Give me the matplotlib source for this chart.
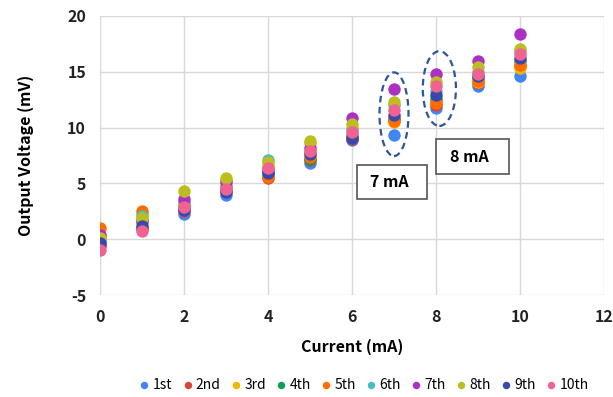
import matplotlib
matplotlib.use("Agg")
import matplotlib.pyplot as plt
from matplotlib.patches import Ellipse, Rectangle

plt.rcParams['font.family'] = ['Noto Sans CJK KR', 'DejaVu Sans']
plt.rcParams['axes.unicode_minus'] = False

current = [0, 1, 2, 3, 4, 5, 6, 7, 8, 9, 10]
labels = ["1st", "2nd", "3rd", "4th", "5th", "6th", "7th", "8th", "9th", "10th"]
colors = ["#4285F4", "#DB4437", "#F4B400", "#0F9D58", "#FF6D00",
          "#46BDC6", "#AB30C4", "#BDBD22", "#3949AB", "#F06292"]

s1st  = [-0.5, 0.9, 2.3, 4.0, 5.8, 6.8, 8.9, 9.3, 11.8, 13.7, 14.6]
s2nd  = [-0.6, 1.0, 2.5, 4.3, 5.5, 7.1, 9.0, 10.7, 12.0, 14.0, 15.5]
s3rd  = [0.3, 2.3, 3.2, 5.3, 6.6, 8.6, 10.0, 10.5, 12.4, 14.1, 15.3]
s4th  = [-0.2, 1.7, 2.8, 4.6, 6.0, 7.2, 9.3, 10.9, 12.6, 14.4, 16.0]
s5th  = [1.0, 2.5, 3.0, 4.7, 5.6, 7.4, 9.2, 10.6, 12.2, 14.2, 15.6]
s6th  = [0.0, 2.1, 3.3, 4.8, 7.1, 7.8, 9.8, 12.0, 13.3, 15.0, 16.9]
s7th  = [0.4, 1.5, 3.6, 5.1, 6.2, 8.2, 10.9, 13.5, 14.8, 16.0, 18.4]
s8th  = [0.1, 1.9, 4.3, 5.5, 6.9, 8.8, 10.3, 12.3, 14.1, 15.4, 17.0]
s9th  = [-0.3, 1.2, 2.6, 4.2, 5.9, 7.6, 9.1, 11.1, 12.9, 14.6, 16.2]
s10th = [-1.0, 0.7, 2.9, 4.5, 6.4, 7.9, 9.6, 11.6, 13.7, 14.8, 16.6]
series = [s1st, s2nd, s3rd, s4th, s5th, s6th, s7th, s8th, s9th, s10th]

W, H = 613, 397
fig = plt.figure(figsize=(W / 100, H / 100), dpi=100)
ax = fig.add_axes([100 / W, 1 - 295 / H, 504 / W, 279 / H])

for vals, lab, c in zip(series, labels, colors):
    ax.scatter(current, vals, s=80, color=c, label=lab, zorder=3, linewidths=0)

ax.set_xlim(0, 12)
ax.set_ylim(-5, 20)
ax.set_xticks(range(0, 13, 2))
ax.set_yticks(range(-5, 21, 5))
ax.grid(True, color="#d9d9d9", linewidth=1)
ax.set_axisbelow(True)
for sp in ax.spines.values():
    sp.set_visible(False)
ax.tick_params(length=0, labelsize=11.5, colors="#222222", pad=10)
for t in ax.get_xticklabels() + ax.get_yticklabels():
    t.set_fontweight("bold")
ax.set_xlabel("Current (mA)", fontsize=11.5, fontweight="bold", labelpad=10)
ax.set_ylabel("Output Voltage (mV)", fontsize=11.5, fontweight="bold", labelpad=24)

# dashed ellipses
ax.add_patch(Ellipse((7, 11.2), 0.69, 7.5, fill=False, edgecolor="#2F5597",
                     linestyle=(0, (3, 2)), linewidth=1.6, zorder=4))
ax.add_patch(Ellipse((8.08, 13.5), 0.79, 6.7, fill=False, edgecolor="#2F5597",
                     linestyle=(0, (3, 2)), linewidth=1.6, zorder=4))

# annotation boxes (figure pixel coordinates)
def box(x0, y0, x1, y1, text):
    fig.add_artist(Rectangle((x0 / W, 1 - y1 / H), (x1 - x0) / W, (y1 - y0) / H,
                             transform=fig.transFigure, facecolor="white",
                             edgecolor="#555555", linewidth=1.2, zorder=5))
    fig.text((x0 + x1) / 2 / W - 0.005, 1 - (y0 + y1) / 2 / H, text,
             ha="center", va="center", fontsize=11.5, fontweight="bold", zorder=6)

box(357, 165, 427, 199, "7 mA")
box(436, 139, 509, 174, "8 mA")

fig.legend(loc="center", bbox_to_anchor=((138 + 590) / 2 / W, 1 - 385 / H),
           ncol=10, frameon=False, fontsize=10, handlelength=0.7,
           handletextpad=0.25, columnspacing=0.75, markerscale=0.6,
           borderaxespad=0)

fig.savefig("out.png", dpi=100)
